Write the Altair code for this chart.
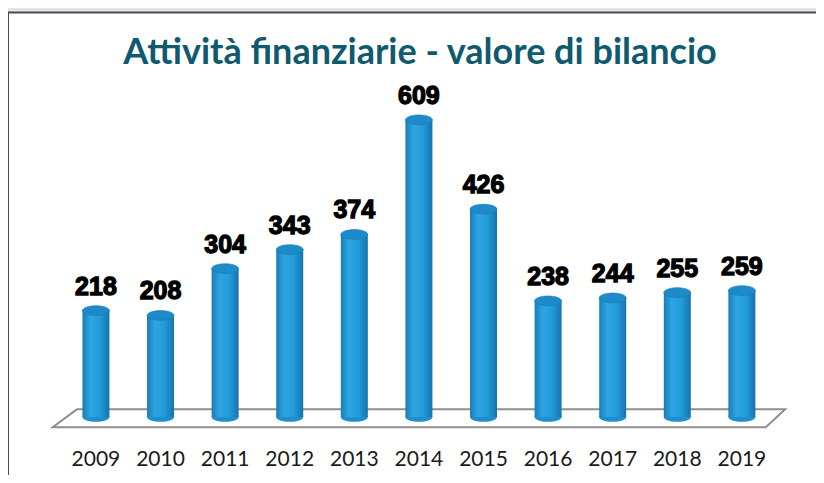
import altair as alt
import pandas as pd

years = [2009, 2010, 2011, 2012, 2013, 2014, 2015, 2016, 2017, 2018, 2019]
values = [218, 208, 304, 343, 374, 609, 426, 238, 244, 255, 259]
title_text = "Attività finanziarie - valore di bilancio"

df = pd.DataFrame({"year": years, "value": values, "zero": [0] * len(years),
                   "label": [str(y) for y in years]})

# decorative 3D floor (parallelogram) in data units, derived from the year range
floor = pd.DataFrame({
    "x": [years[0] - 0.29, years[-1] + 0.67, years[-1] + 0.37, years[0] - 0.67, years[0] - 0.29],
    "y": [16, 16, -21, -21, 16],
    "i": [0, 1, 2, 3, 4],
})

xscale = alt.Scale(domain=[2007.716, 2020.070], nice=False, zero=False)
yscale = alt.Scale(domain=[-118.9, 829.9], nice=False, zero=False)

bar_grad = alt.Gradient(
    gradient="linear", x1=0, x2=1, y1=0, y2=0,
    stops=[
        alt.GradientStop(color="#1a7db9", offset=0),
        alt.GradientStop(color="#2ca6e2", offset=0.3),
        alt.GradientStop(color="#239bd9", offset=0.65),
        alt.GradientStop(color="#1573ae", offset=1),
    ],
)

ellipse = "M -1 0 A 1 0.36 0 1 0 1 0 A 1 0.36 0 1 0 -1 0 Z"
BW = 27

base = alt.Chart(df)
X = alt.X("year:Q", scale=xscale, axis=None, title=None)
Yv = alt.Y("value:Q", scale=yscale, axis=None, title=None)
Y0 = alt.Y("zero:Q", scale=yscale, axis=None, title=None)

# panel border (top and left edges only; the panel runs off the right/bottom)
border = alt.Chart(pd.DataFrame({"k": [0]}))
border_top = border.mark_rule(color="#4d4d4d", strokeWidth=2).encode(
    x=alt.value(0), x2=alt.value(808), y=alt.value(0.5)
)
border_left = border.mark_rule(color="#4d4d4d", strokeWidth=2).encode(
    x=alt.value(0), y=alt.value(0), y2=alt.value(463)
)

floor_layer = alt.Chart(floor).mark_line(color="#8f8f8f", strokeWidth=2).encode(
    x=alt.X("x:Q", scale=xscale, axis=None, title=None),
    y=alt.Y("y:Q", scale=yscale, axis=None, title=None),
    order="i:Q",
)

bottom_caps = base.mark_point(shape=ellipse, size=BW * BW, filled=True, color="#1f8fcc",
                              opacity=1, strokeWidth=0).encode(x=X, y=Y0)

bars = base.mark_bar(size=BW, color=bar_grad).encode(x=X, y=Yv, y2="zero:Q")

top_caps = base.mark_point(shape=ellipse, size=BW * BW, filled=True, color="#1d8bca", opacity=1,
                           stroke="#1a78b2", strokeWidth=0.6).encode(x=X, y=Yv)

labels = base.mark_text(font="Liberation Sans", fontSize=25, fontWeight="bold", color="#000000",
                        stroke="#000000", strokeWidth=1.3, dy=-24, baseline="middle").encode(
    x=X, y=Yv, text="value:Q"
)

year_labels = base.mark_text(font="Lato", fontSize=21, color="#1a1a1a", baseline="middle").encode(
    x=X, y=alt.value(448), text="label:N"
)

title = alt.Chart(pd.DataFrame({"t": [title_text]})).mark_text(
    font="Lato", fontSize=36, fontWeight="bold", color="#0f5a6e", baseline="middle", align="center"
).encode(x=alt.value(412), y=alt.value(41), text="t:N")

chart = alt.layer(border_top, border_left, floor_layer, bottom_caps, bars, top_caps, labels,
                  year_labels, title).properties(
    width=808, height=463,
    padding={"left": 0, "top": 4, "right": 0, "bottom": 0},
    autosize=alt.AutoSizeParams(type="none"),
    background="#dfe3ea",
).configure_view(fill="#ffffff", stroke="transparent", strokeWidth=0)

chart.save("out.html", embed_options={"renderer": "svg", "actions": False})
